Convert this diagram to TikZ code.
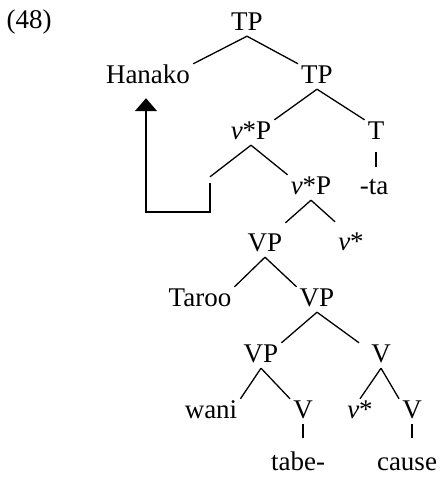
\documentclass[tikz,border=0pt]{standalone}
\usepackage{fontspec}
\setmainfont{Liberation Serif}
\usetikzlibrary{arrows.meta}
\tikzset{
  branch/.style = {line width=1.3pt},
  bar/.style    = {branch, shorten >=13pt},
  arr/.style    = {-{Triangle[length=13pt,width=22pt]}, line width=1.3pt}
}

\begin{document}
\begin{tikzpicture}[%
  x=1pt, y=-1pt,
  every node/.style={anchor=base, inner xsep=3pt, inner ysep=4pt,
                     text height=15pt, text depth=2pt,
                     font=\fontsize{27pt}{32pt}\selectfont},
  trace/.style={anchor=center, inner sep=3pt, text height=0pt, text depth=0pt}
]
\useasboundingbox (0,0) rectangle (441,477);

% --- Knoten ------------------------------------------------------
\node (ex)     at (29,28)   {(48)};
\node (tp)     at (247,30)  {TP};
\node (hanako) at (148,83)  {Hanako};
\node (tpb)    at (317,83)  {TP};
\node (vpa)    at (251,139) {\textit{v}*P};
\node (t)      at (376,139) {T};
\node (ta)     at (374,194) {-ta};
\node[trace] (tr) at (210,180) {};                % leere Spur
\node (vpb)    at (311,194) {\textit{v}*P};
\node (vp)     at (265,251) {VP};
\node (va)     at (351,250) {\textit{v}*};
\node (taroo)  at (200,306) {Taroo};
\node (vpc)    at (317,306) {VP};
\node (vpd)    at (261,362) {VP};
\node (v)      at (381,362) {V};
\node (wani)   at (211,418) {wani};
\node (vt)     at (303,418) {V};
\node (vb)     at (360,418) {\textit{v}*};
\node (vc)     at (412,418) {V};
\node (tabe)   at (298,470) {tabe-};
\node (cause)  at (407,470) {cause};

% --- Kanten ------------------------------------------------------
\draw[branch] (tp.south) -- (hanako.north east);
\draw[branch] (tp.south) -- (tpb.north west);
\draw[branch] (tpb.south) -- (vpa.north east);
\draw[branch] (tpb.south) -- (t.north west);
\draw[bar, shorten <=7pt, shorten >=8pt] (t.south) -- (t.south |- ta.north);
\draw[branch] (vpa.south) -- (tr.north);
\draw[branch] (vpa.south) -- (vpb.north west);
\draw[branch] (vpb.south) -- ([yshift=9pt]vp.north east);
\draw[branch] (vpb.south) -- ([yshift=9pt]va.north west);
\draw[branch] (vp.south) -- (taroo.north east);
\draw[branch] (vp.south) -- (vpc.north west);
\draw[branch] (vpc.south) -- (vpd.north east);
\draw[branch] (vpc.south) -- ([xshift=-9pt]v.north west);
\draw[branch] (vpd.south) -- (wani.north east);
\draw[branch] (vpd.south) -- (vt.north west);
\draw[bar] (vt.south) -- (vt.south |- tabe.north);
\draw[branch] (v.south) -- (vb.north);
\draw[branch] (v.south) -- (vc.north west);
\draw[bar] (vc.south) -- (vc.south |- cause.north);

% --- Bewegung ----------------------------------------------------
\coordinate (turn) at (146,212);
\draw[arr, shorten >=9pt] (tr.south) |- (turn) -- (turn |- hanako.south);
\end{tikzpicture}
\end{document}
